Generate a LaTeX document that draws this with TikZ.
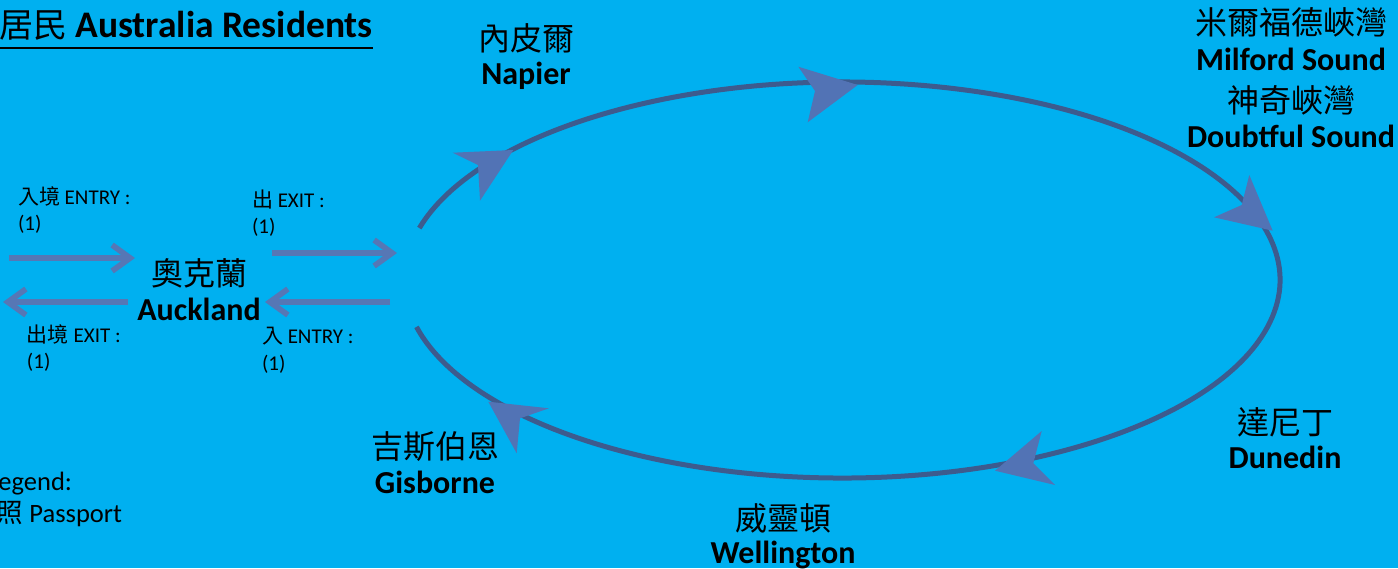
\documentclass[tikz,border=0pt]{standalone}
\usepackage{fontspec}
\setmainfont{Carlito}
\newfontfamily\cjk{Noto Sans CJK TC}
\usetikzlibrary{arrows.meta,calc}
\definecolor{bg}{HTML}{00B0F0}
\definecolor{ringcol}{HTML}{3D5B8E}
\definecolor{headcol}{HTML}{5273B5}
\definecolor{arrcol}{HTML}{5677B5}
\begin{document}
\begin{tikzpicture}[x=1pt,y=-1pt,
  place/.style={inner sep=0pt, outer sep=0pt},
  cjkname/.style={place, font=\fontsize{32}{32}\cjk},
  engname/.style={place, anchor=base, font=\fontsize{32}{32}\selectfont\bfseries},
  small/.style={place, anchor=base west, font=\fontsize{21}{21}\selectfont},
  legendtext/.style={place, anchor=base east, font=\fontsize{26.5}{26.5}\selectfont},
  flow/.style={arrcol, line width=5.7pt, -{Straight Barb[length=18pt,width=26pt]}},
  ring/.style={ringcol, line width=5pt},
  headfill/.style={fill=headcol}]
\useasboundingbox (0,0) rectangle (1398,568);
\fill[bg] (0,0) rectangle (1398,568);

% title
\node[place, anchor=base west, font=\fontsize{37.5}{37.5}\selectfont\bfseries] (title) at (-1,37) {{\mdseries\fontsize{34}{34}\cjk 居民} Australia Residents};
\coordinate (ul) at (0,48.3);
\draw[line width=2.2pt] (ul) -- (title.east |- ul);

% ring
\coordinate (C) at (842,280);
\draw[ring] ($(C)+(195.2:438 and 198)$) arc[start angle=195.2, end angle=526.3, x radius=438, y radius=198];

% arrowheads on ring
\fill[headfill] (513.3,150) -- (452.7,152.7) -- (478,165) -- (480,200.7) -- cycle;
\fill[headfill] (857.7,85) -- (798.3,66.7) -- (815,91) -- (807.7,122.3) -- cycle;
\fill[headfill] (1272.7,230.7) -- (1249.3,175) -- (1241.7,205) -- (1214,217.3) -- cycle;
\fill[headfill] (995,470.7) -- (1041.7,431) -- (1033.3,463.3) -- (1055,485) -- cycle;
\fill[headfill] (488.3,401.7) -- (549,408.3) -- (520,418.3) -- (516.7,453.3) -- cycle;

% Auckland
\node[cjkname] (aklz) at (199,273) {奧克蘭};
\node[engname] (akl) at (199,320) {Auckland};

% straight arrows
\coordinate (a1s) at (9,258);   \coordinate (a1e) at (135,258);
\coordinate (a2s) at (128,302); \coordinate (a2e) at (3,302);
\coordinate (a3s) at (272,253); \coordinate (a3e) at (397,253);
\coordinate (a4s) at (390,302); \coordinate (a4e) at (265,302);
\draw[flow] (a1s) -- (a1e);
\draw[flow] (a2s) -- (a2e);
\draw[flow] (a3s) -- (a3e);
\draw[flow] (a4s) -- (a4e);

% small labels
\node[small] (l1) at (18,204) {{\cjk 入境} ENTRY :};
\node[small] (l1n) at (18,230) {(1)};
\node[small] (l2) at (252,207) {{\cjk 出} EXIT :};
\node[small] (l2n) at (252,233) {(1)};
\node[small] (l3) at (27,342) {{\cjk 出境} EXIT :};
\node[small] (l3n) at (27,368) {(1)};
\node[small] (l4) at (262,343) {{\cjk 入} ENTRY :};
\node[small] (l4n) at (262,370) {(1)};

% places
\node[cjkname] (napz) at (526,38) {內皮爾};
\node[engname] (nap) at (526,84) {Napier};
\node[cjkname] (milz) at (1291,22) {米爾福德峽灣};
\node[engname] (mil) at (1291,70) {Milford Sound};
\node[cjkname] (doubz) at (1291,100) {神奇峽灣};
\node[engname] (doub) at (1291,147) {Doubtful Sound};
\node[cjkname] (dunz) at (1285,422) {達尼丁};
\node[engname] (dun) at (1285,468) {Dunedin};
\node[cjkname] (welz) at (783,518) {威靈頓};
\node[engname] (wel) at (783,563) {Wellington};
\node[cjkname] (gisz) at (435,447) {吉斯伯恩};
\node[engname] (gis) at (435,493) {Gisborne};

% legend
\node[legendtext] (leg) at (72,490) {Legend:};
\node[legendtext] (pass) at (122,522) {{\cjk 護照} Passport};
\end{tikzpicture}
\end{document}
